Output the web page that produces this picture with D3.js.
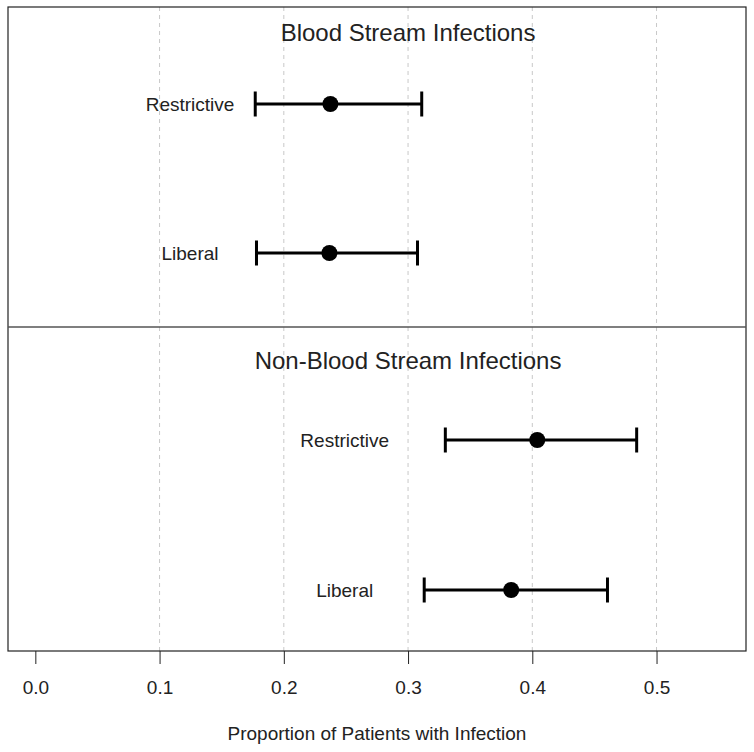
<!DOCTYPE html>
<html><head><meta charset="utf-8">
<script src="https://cdn.jsdelivr.net/npm/d3@7"></script>
<style>body{margin:0;background:#fff}svg{display:block}text{font-family:"Liberation Sans",Arial,sans-serif;fill:#222}</style>
</head><body><svg id="c" width="754" height="752"></svg>
<script>
const panels = ["Blood Stream Infections", "Non-Blood Stream Infections"];
const groups = ["Restrictive", "Liberal"];
const estimates = [[0.2375, 0.2367], [0.404, 0.383]];
const lower = [[0.177, 0.178], [0.330, 0.313]];
const upper = [[0.311, 0.3076], [0.484, 0.4605]];
const labelX = [0.1245, 0.249];
const ticks = [0.0, 0.1, 0.2, 0.3, 0.4, 0.5];
const gridTicks = [0.1, 0.2, 0.3, 0.4, 0.5];
const xLim = [-0.022, 0.572];
const titleX = 0.3;
const axisTitle = "Proportion of Patients with Infection";

const svg = d3.select("#c");
const L = 8, R = 746, T = 7, M = 327, B = 651;
const x = d3.scaleLinear().domain(xLim).range([L, R]);

const panelBox = [{top: T, bottom: M, r0: 104, r1: 253, ty: 32},
                  {top: M, bottom: B, r0: 440, r1: 590, ty: 360}];

// grid
svg.append("g").selectAll("line").data(gridTicks).join("line")
  .attr("x1", d => x(d)).attr("x2", d => x(d)).attr("y1", T).attr("y2", B)
  .attr("stroke", "#c8c8c8").attr("stroke-width", 1).attr("stroke-dasharray", "4,4");

panels.forEach((p, i) => {
  const box = panelBox[i];
  const y = d3.scalePoint().domain(groups).range([box.r0, box.r1]);
  const g = svg.append("g");
  g.append("text").attr("x", x(titleX)).attr("y", box.ty).attr("text-anchor", "middle")
    .attr("dominant-baseline", "central").attr("font-size", 24).text(p);
  const rows = groups.map((gr, j) => ({gr, est: estimates[i][j], lo: lower[i][j], hi: upper[i][j]}));
  g.selectAll(".lab").data(rows).join("text")
    .attr("x", x(labelX[i])).attr("y", d => y(d.gr)).attr("text-anchor", "middle")
    .attr("dominant-baseline", "central").attr("font-size", 19).text(d => d.gr);
  g.selectAll(".ci").data(rows).join("line")
    .attr("x1", d => x(d.lo)).attr("x2", d => x(d.hi)).attr("y1", d => y(d.gr)).attr("y2", d => y(d.gr))
    .attr("stroke", "#000").attr("stroke-width", 3);
  ["lo", "hi"].forEach(k => {
    g.selectAll(".cap" + k).data(rows).join("line")
      .attr("x1", d => x(d[k])).attr("x2", d => x(d[k]))
      .attr("y1", d => y(d.gr) - 12.5).attr("y2", d => y(d.gr) + 12.5)
      .attr("stroke", "#000").attr("stroke-width", 3);
  });
  g.selectAll("circle").data(rows).join("circle")
    .attr("cx", d => x(d.est)).attr("cy", d => y(d.gr)).attr("r", 8).attr("fill", "#000");
});

// frame
svg.append("rect").attr("x", L).attr("y", T).attr("width", R - L).attr("height", B - T)
  .attr("fill", "none").attr("stroke", "#222").attr("stroke-width", 1.2);
svg.append("line").attr("x1", L).attr("x2", R).attr("y1", M).attr("y2", M)
  .attr("stroke", "#555").attr("stroke-width", 1.5);

// axis
const ax = svg.append("g").attr("transform", `translate(0,${B})`)
  .call(d3.axisBottom(x).tickValues(ticks).tickFormat(d3.format(".1f")).tickSize(13).tickPadding(17));
ax.select(".domain").remove();
ax.selectAll(".tick line").attr("stroke", "#222");
ax.selectAll(".tick text").attr("font-size", 19).attr("fill", "#222")
  .style("font-family", '"Liberation Sans",Arial,sans-serif');

svg.append("text").attr("x", (L + R) / 2).attr("y", 733).attr("text-anchor", "middle")
  .attr("dominant-baseline", "central").attr("font-size", 19).text(axisTitle);
</script></body></html>
